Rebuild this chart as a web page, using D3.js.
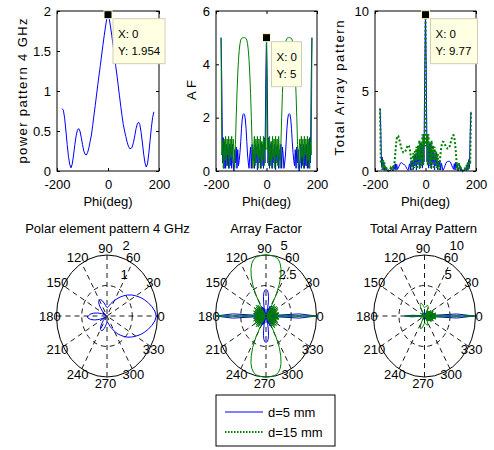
<!DOCTYPE html>
<html>
<head>
<meta charset="utf-8">
<script src="https://cdn.jsdelivr.net/npm/d3@7"></script>
<style>
body { margin: 0; background: #fff; }
svg text { font-family: "Liberation Sans", Arial, sans-serif; font-size: 13px; fill: #000; }
</style>
</head>
<body>
<svg id="chart" width="494" height="450"></svg>
<script>
// sample grids of the curves, in degrees
var phi5 = d3.range(-180, 181, 5);
var phi3 = d3.range(-180, 181, 3);

// element power pattern at 4 GHz (5 deg steps)
var elemPattern = [0.78, 0.76, 0.66, 0.50, 0.33, 0.18, 0.08, 0.04, 0.09, 0.20,
  0.33, 0.44, 0.51, 0.53, 0.50, 0.42, 0.33, 0.25, 0.21, 0.20,
  0.23, 0.29, 0.37, 0.45, 0.57, 0.70, 0.82, 0.95, 1.08, 1.20,
  1.32, 1.45, 1.57, 1.69, 1.80, 1.90,
  1.954,
  1.90, 1.80, 1.69, 1.57, 1.45, 1.32, 1.20, 1.07, 0.94, 0.81,
  0.69, 0.58, 0.50, 0.43, 0.36, 0.31, 0.28, 0.28, 0.30, 0.36,
  0.44, 0.53, 0.59, 0.61, 0.58, 0.48, 0.35, 0.21, 0.10, 0.05,
  0.09, 0.22, 0.38, 0.54, 0.67, 0.74];

// array factor, 3 deg steps
var afD5 = [5.0, 3.3, 0.3, 1.25, 0.1, 1.1, 0.1, 1.0, 0.2, 0.9, 0.1, 1.0, 0.2, 0.9, 0.1, 1.0, 0.3, 0.0, 0.8, 0.3,
  0.9, 0.1, 0.8, 0.2, 0.4, 0.7, 1.1, 1.6, 1.95, 2.12, 2.15, 2.12, 1.95, 1.6, 1.1, 0.6, 0.3, 0.1, 0.6, 0.9,
  0.1, 1.0, 0.4, 0.8, 0.1, 1.0, 0.3, 0.9, 0.05, 1.0, 0.3, 0.8, 0.1, 1.1, 0.2, 1.0, 0.1, 1.25, 0.3, 3.3,
  5.0, 3.3, 0.3, 1.25, 0.1, 1.0, 0.2, 1.1, 0.1, 0.8, 0.3, 1.0, 0.05, 0.9, 0.3, 1.0, 0.1, 0.8, 0.4, 1.0,
  0.1, 0.9, 0.6, 0.1, 0.3, 0.6, 1.1, 1.6, 1.95, 2.12, 2.15, 2.12, 1.95, 1.6, 1.1, 0.7, 0.4, 0.2, 0.8, 0.1,
  0.9, 0.3, 0.8, 0.0, 0.3, 1.0, 0.1, 0.9, 0.2, 1.0, 0.1, 0.9, 0.2, 1.0, 0.1, 1.1, 0.1, 1.25, 0.3, 3.3, 5.0];

var afD15 = [5.0, 0.6, 1.1, 0.1, 1.2, 0.4, 1.3, 0.2, 1.2, 0.6, 1.3, 0.1, 1.2, 0.5, 1.3, 0.3, 1.2, 0.8, 0.1, 1.0,
  2.0, 2.9, 3.6, 4.15, 4.53, 4.77, 4.91, 4.97, 4.99, 5.0, 5.0, 5.0, 4.99, 4.97, 4.91, 4.77, 4.53, 4.15, 3.6, 2.9,
  2.0, 1.0, 0.1, 0.8, 1.3, 0.2, 1.2, 0.6, 1.3, 0.1, 1.2, 0.5, 1.3, 0.1, 1.1, 0.4, 1.3, 0.2, 1.2, 0.8,
  5.0, 0.8, 1.2, 0.2, 1.3, 0.4, 1.1, 0.1, 1.3, 0.5, 1.2, 0.1, 1.3, 0.6, 1.2, 0.2, 1.3, 0.8, 0.1, 1.0,
  2.0, 2.9, 3.6, 4.15, 4.53, 4.77, 4.91, 4.97, 4.99, 5.0, 5.0, 5.0, 4.99, 4.97, 4.91, 4.77, 4.53, 4.15, 3.6, 2.9,
  2.0, 1.0, 0.1, 0.8, 1.2, 0.3, 1.3, 0.5, 1.2, 0.1, 1.3, 0.6, 1.2, 0.2, 1.3, 0.4, 1.2, 0.1, 1.1, 0.6, 5.0];

// total array pattern, 3 deg steps
var totalD5 = [3.90, 2.54, 0.23, 0.86, 0.06, 0.55, 0.04, 0.30, 0.04, 0.11, 0.01, 0.05, 0.01, 0.06, 0.01, 0.20, 0.08, 0.0, 0.34, 0.14,
  0.46, 0.05, 0.42, 0.10, 0.19, 0.29, 0.40, 0.50, 0.53, 0.49, 0.45, 0.42, 0.41, 0.35, 0.28, 0.17, 0.10, 0.04, 0.26, 0.45,
  0.06, 0.65, 0.29, 0.64, 0.09, 0.95, 0.31, 0.99, 0.06, 1.25, 0.40, 1.12, 0.15, 1.71, 0.32, 1.69, 0.18, 2.28, 0.56, 6.34,
  9.77, 6.34, 0.56, 2.28, 0.18, 1.69, 0.32, 1.71, 0.15, 1.12, 0.40, 1.25, 0.06, 0.99, 0.31, 0.94, 0.09, 0.63, 0.29, 0.65,
  0.06, 0.48, 0.29, 0.04, 0.12, 0.22, 0.36, 0.48, 0.57, 0.59, 0.60, 0.61, 0.60, 0.56, 0.43, 0.31, 0.20, 0.11, 0.46, 0.06,
  0.55, 0.18, 0.44, 0.0, 0.13, 0.35, 0.03, 0.17, 0.02, 0.07, 0.01, 0.05, 0.02, 0.19, 0.03, 0.42, 0.05, 0.71, 0.20, 2.31, 3.70];

var totalD15 = [3.90, 0.46, 0.83, 0.07, 0.72, 0.20, 0.52, 0.06, 0.25, 0.07, 0.10, 0.01, 0.05, 0.04, 0.17, 0.06, 0.34, 0.28, 0.04, 0.47,
  1.02, 1.6, 2.0, 2.2, 2.18, 2.05, 1.85, 1.65, 1.45, 1.3, 1.2, 1.15, 1.15, 1.2, 1.3, 1.38, 1.54, 1.62, 1.58, 1.45,
  1.14, 0.65, 0.07, 0.64, 1.13, 0.19, 1.24, 0.66, 1.52, 0.13, 1.58, 0.70, 1.92, 0.16, 1.78, 0.68, 2.29, 0.36, 2.24, 1.54,
  9.77, 1.54, 2.24, 0.36, 2.29, 0.68, 1.78, 0.16, 1.91, 0.70, 1.58, 0.13, 1.52, 0.66, 1.22, 0.19, 1.12, 0.63, 0.07, 0.65,
  1.16, 1.54, 1.73, 1.83, 1.81, 1.72, 1.62, 1.49, 1.45, 1.40, 1.40, 1.45, 1.55, 1.74, 1.91, 2.10, 2.22, 2.24, 2.09, 1.74,
  1.22, 0.60, 0.06, 0.40, 0.52, 0.11, 0.35, 0.10, 0.14, 0.01, 0.07, 0.04, 0.14, 0.04, 0.36, 0.15, 0.58, 0.06, 0.72, 0.42, 3.70];

// ticks and labels
var xTicks = [-200, 0, 200];
var elemTicks = [0, 0.5, 1, 1.5, 2];
var afTicks = [0, 2, 4, 6];
var totalTicks = [0, 5, 10];
var angleLabels = [0, 30, 60, 90, 120, 150, 180, 210, 240, 270, 300, 330];
var spokeAngles = [0, 30, 60, 90, 120, 150];
var elemRings = [1, 2];
var afRings = [2.5, 5];
var totalRings = [5, 10];
var seriesNames = ["d=5 mm", "d=15 mm"];

var blue = "#0000ff", green = "#008000";
var svg = d3.select("#chart");
var fmt = function (d) { return String(d); };

// top row: cartesian axes
function cartPlot(o) {
  var x = d3.scaleLinear().domain([-200, 200]).range([o.x0, o.x1]);
  var y = d3.scaleLinear().domain([0, d3.max(o.yTicks)]).range([171, 11]);
  var g = svg.append("g");

  o.series.forEach(function (s) {
    g.append("path").datum(s.values)
      .attr("fill", "none")
      .attr("stroke", s.color)
      .attr("stroke-width", s.width || 1)
      .attr("stroke-dasharray", s.dash || null)
      .attr("d", d3.line().x(function (d, i) { return x(s.phi[i]); }).y(function (d) { return y(d); }));
  });

  g.append("rect").attr("x", o.x0).attr("y", 11).attr("width", o.x1 - o.x0).attr("height", 160)
    .attr("fill", "none").attr("stroke", "#000");

  function clean(a) { a.select(".domain").remove(); }
  g.append("g").attr("transform", "translate(0,171)")
    .call(d3.axisBottom(x).tickValues(xTicks).tickFormat(fmt).tickSizeInner(-3).tickSizeOuter(0).tickPadding(9)).call(clean);
  g.append("g").attr("transform", "translate(0,11)")
    .call(d3.axisTop(x).tickValues(xTicks).tickFormat("").tickSizeInner(-3).tickSizeOuter(0)).call(clean);
  g.append("g").attr("transform", "translate(" + o.x0 + ",0)")
    .call(d3.axisLeft(y).tickValues(o.yTicks).tickFormat(fmt).tickSizeInner(-3).tickSizeOuter(0).tickPadding(6)).call(clean);
  g.append("g").attr("transform", "translate(" + o.x1 + ",0)")
    .call(d3.axisRight(y).tickValues(o.yTicks).tickFormat("").tickSizeInner(-3).tickSizeOuter(0)).call(clean);

  g.append("text").attr("x", (o.x0 + o.x1) / 2).attr("y", 206).attr("text-anchor", "middle").text("Phi(deg)");
  g.append("text")
    .attr("transform", "translate(" + o.labelX + "," + o.labelY + ") rotate(-90)")
    .attr("text-anchor", "middle")
    .attr("textLength", o.labelLen).attr("lengthAdjust", "spacing")
    .text(o.label);

  // data tip
  var px = x(0), py = y(o.tipY);
  var tip = g.append("g");
  tip.append("rect").attr("x", px + 5).attr("y", py + 4).attr("width", o.tipW).attr("height", 45)
    .attr("fill", "#ffffe1").attr("stroke", "#cfcfb4");
  tip.append("text").attr("x", px + 10).attr("y", py + 23).style("font-size", "11.5px").text("X: 0");
  tip.append("text").attr("x", px + 10).attr("y", py + 40).style("font-size", "11.5px").text("Y: " + o.tipY);
  tip.append("rect").attr("x", px - 4).attr("y", py - 4).attr("width", 8).attr("height", 8)
    .attr("fill", "#000").attr("stroke", "#ffffc8");
}

cartPlot({
  x0: 57, x1: 159, yTicks: elemTicks,
  series: [{ phi: phi5, values: elemPattern, color: blue }],
  label: "power pattern 4 GHz", labelX: 26.5, labelY: 91, labelLen: 145,
  tipY: 1.954, tipW: 52
});
cartPlot({
  x0: 216, x1: 317, yTicks: afTicks,
  series: [{ phi: phi3, values: afD5, color: blue }, { phi: phi3, values: afD15, color: green }],
  label: "AF", labelX: 196, labelY: 90, labelLen: 20,
  tipY: 5, tipW: 30
});
cartPlot({
  x0: 375, x1: 476, yTicks: totalTicks,
  series: [{ phi: phi3, values: totalD5, color: blue },
           { phi: phi3, values: totalD15, color: green, width: 2, dash: "2,2" }],
  label: "Total Array pattern", labelX: 344, labelY: 88, labelLen: 135,
  tipY: 9.77, tipW: 47
});

// bottom row: polar plots drawn on an ellipse like the stretched figure
function polarPlot(o) {
  var cx = o.cx, cy = 316, rx = o.rx, ry = 61;
  var rmax = d3.max(o.rings);
  var r = d3.scaleLinear().domain([0, rmax]).range([0, 1]);
  var rad = function (a) { return a * Math.PI / 180; };
  var g = svg.append("g");

  g.append("ellipse").attr("cx", cx).attr("cy", cy).attr("rx", rx).attr("ry", ry)
    .attr("fill", "#fff").attr("stroke", "#000");
  g.append("ellipse").attr("cx", cx).attr("cy", cy)
    .attr("rx", rx * r(o.rings[0])).attr("ry", ry * r(o.rings[0]))
    .attr("fill", "none").attr("stroke", "#000").attr("stroke-width", 0.9).attr("stroke-dasharray", "5,4");

  g.selectAll(".spoke").data(spokeAngles).enter().append("line")
    .attr("x1", function (a) { return cx - rx * Math.cos(rad(a)); })
    .attr("y1", function (a) { return cy + ry * Math.sin(rad(a)); })
    .attr("x2", function (a) { return cx + rx * Math.cos(rad(a)); })
    .attr("y2", function (a) { return cy - ry * Math.sin(rad(a)); })
    .attr("stroke", "#000").attr("stroke-width", 0.9).attr("stroke-dasharray", "5,4");

  g.selectAll(".ang").data(angleLabels).enter().append("text")
    .attr("x", function (a) { return cx + 1.1 * rx * Math.cos(rad(a)) - 1.5; })
    .attr("y", function (a) { return cy - 1.1 * ry * Math.sin(rad(a)); })
    .attr("dy", "0.35em").attr("text-anchor", "middle")
    .text(fmt);

  g.selectAll(".ring").data(o.rings).enter().append("text")
    .attr("x", function (d, i) { return cx + o.ringDx[i]; })
    .attr("y", function (d, i) { return i === 0 ? 274 : 245; })
    .attr("dy", "0.35em")
    .text(fmt);

  o.series.forEach(function (s) {
    g.append("path").datum(s.values)
      .attr("fill", "none").attr("stroke", s.color).attr("stroke-width", 1)
      .attr("d", d3.line()
        .x(function (d, i) { return cx + rx * r(d) * Math.cos(rad(s.phi[i])); })
        .y(function (d, i) { return cy - ry * r(d) * Math.sin(rad(s.phi[i])); }));
  });

  g.append("text").attr("x", o.titleX).attr("y", 232.5).attr("text-anchor", "middle").text(o.title);
}

polarPlot({
  cx: 107, rx: 50.5, rings: elemRings, ringDx: [13.5, 15.5],
  series: [{ phi: phi5, values: elemPattern, color: blue }],
  title: "Polar element pattern 4 GHz", titleX: 107.5
});
polarPlot({
  cx: 266, rx: 50.5, rings: afRings, ringDx: [12.5, 14.5],
  series: [{ phi: phi3, values: afD5, color: blue }, { phi: phi3, values: afD15, color: green }],
  title: "Array Factor", titleX: 266
});
polarPlot({
  cx: 424.5, rx: 51, rings: totalRings, ringDx: [20, 25],
  series: [{ phi: phi3, values: totalD5, color: blue }, { phi: phi3, values: totalD15, color: green }],
  title: "Total Array Pattern", titleX: 423.5
});

// legend
var leg = svg.append("g");
leg.append("rect").attr("x", 216).attr("y", 395).attr("width", 119).attr("height", 51)
  .attr("fill", "#fff").attr("stroke", "#000");
var legStyles = [{ color: blue, width: 1, dash: null }, { color: green, width: 2, dash: "1.5,1.5" }];
seriesNames.forEach(function (name, i) {
  var yy = 412 + i * 20;
  leg.append("line").attr("x1", 225).attr("x2", 263).attr("y1", yy).attr("y2", yy)
    .attr("stroke", legStyles[i].color).attr("stroke-width", legStyles[i].width)
    .attr("stroke-dasharray", legStyles[i].dash);
  leg.append("text").attr("x", 268).attr("y", yy).attr("dy", "0.35em").text(name);
});
</script>
</body>
</html>
